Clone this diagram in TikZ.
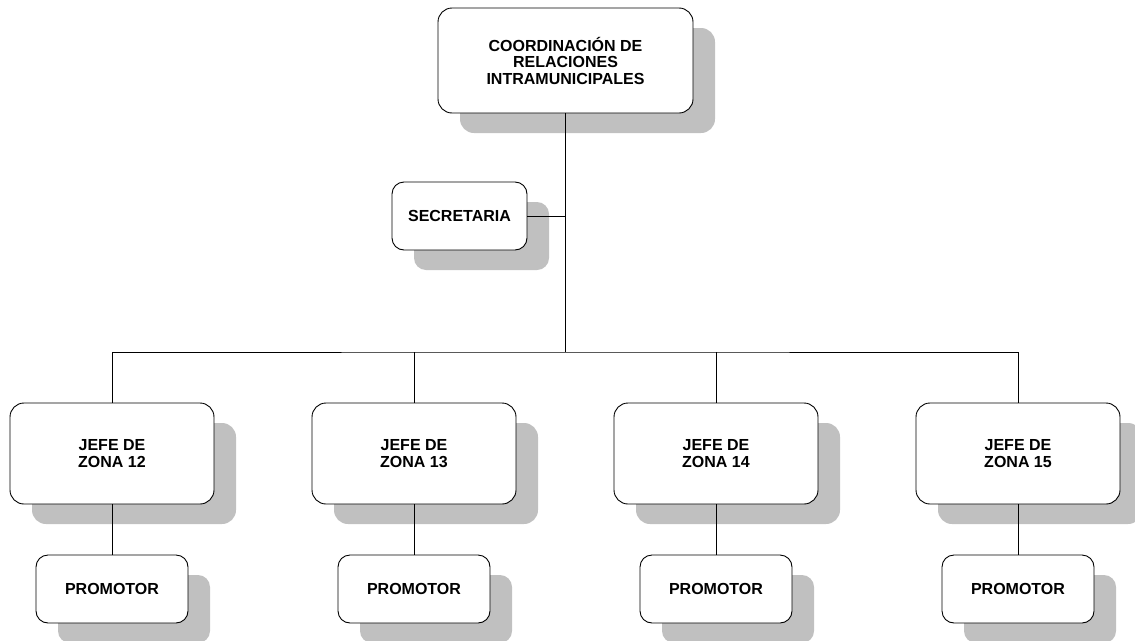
\documentclass[tikz,border=0pt]{standalone}
\usepackage{fontspec}
\setmainfont{Liberation Sans}
\usetikzlibrary{shadows}
\definecolor{shadowgray}{RGB}{192,192,192}
\begin{document}
\begin{tikzpicture}[x=1pt,y=-1pt,
  box/.style={draw=black, line width=0.9pt, fill=white, rounded corners=14pt,
    inner sep=0pt, align=center,
    font=\fontsize{16}{16.5}\selectfont\bfseries,
    drop shadow={shadow xshift=22pt, shadow yshift=-20pt, fill=shadowgray, opacity=1, draw=none}},
  big/.style={box, minimum width=255pt, minimum height=105pt},
  sec/.style={box, minimum width=135pt, minimum height=68pt, rounded corners=12pt},
  jefe/.style={box, minimum width=204pt, minimum height=101pt, font=\fontsize{16}{17.5}\selectfont\bfseries},
  prom/.style={box, minimum width=152pt, minimum height=68pt, rounded corners=12pt},
  conn/.style={draw=black, line width=0.8pt}]
\useasboundingbox (0,0) rectangle (1135,640);
\node[big] (top) at (565.5,60.5) {COORDINACIÓN DE\\RELACIONES\\INTRAMUNICIPALES};
\node[sec] (sec) at (459.5,216) {SECRETARIA};
\node[jefe] (j1) at (112,453.5) {JEFE DE\\ZONA 12};
\node[jefe] (j2) at (414,453.5) {JEFE DE\\ZONA 13};
\node[jefe] (j3) at (716,453.5) {JEFE DE\\ZONA 14};
\node[jefe] (j4) at (1018,453.5) {JEFE DE\\ZONA 15};
\node[prom] (p1) at (112,589) {PROMOTOR};
\node[prom] (p2) at (414,589) {PROMOTOR};
\node[prom] (p3) at (716,589) {PROMOTOR};
\node[prom] (p4) at (1018,589) {PROMOTOR};
\coordinate (hub) at (565.5,352);
\draw[conn] (top.south) -- (hub);
\draw[conn] (sec.east) -- (sec.east -| top.south);
\draw[conn] (j1.north) |- (hub) -| (j4.north);
\draw[conn] (j2.north) -- (j2.north |- hub);
\draw[conn] (j3.north) -- (j3.north |- hub);
\draw[conn] (j1.south) -- (p1.north);
\draw[conn] (j2.south) -- (p2.north);
\draw[conn] (j3.south) -- (p3.north);
\draw[conn] (j4.south) -- (p4.north);
\end{tikzpicture}
\end{document}
